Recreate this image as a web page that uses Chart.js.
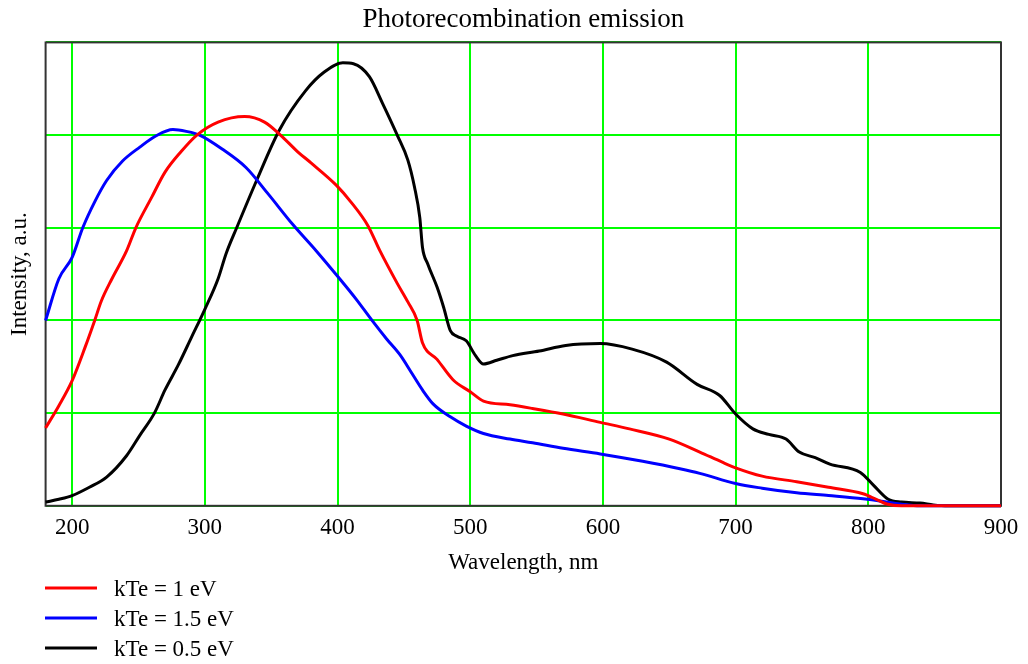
<!DOCTYPE html>
<html>
<head>
<meta charset="utf-8">
<title>Photorecombination emission</title>
<script src="https://cdn.jsdelivr.net/npm/chart.js@4.4.1/dist/chart.umd.min.js"></script>
<style>
  html, body { margin: 0; padding: 0; background: #fff; }
  #wrap { width: 1028px; height: 664px; }
</style>
</head>
<body>
<div id="wrap"><canvas id="emissionChart"></canvas></div>
<script>
// Espectros (comprimento de onda em nm, intensidade em u.a.)
const redX = [180, 190, 200, 210, 217, 222, 230, 241, 248, 260, 270, 282, 294, 310, 330, 345, 357, 370, 380, 399, 410, 423, 432, 445, 453, 460, 464, 475, 487, 500, 510, 530, 547, 570, 598, 620, 650, 673, 690, 700, 720, 746, 770, 796, 806, 814, 825, 900];
const redY = [0.84, 1.08, 1.35, 1.72, 2.0, 2.21, 2.45, 2.75, 3.0, 3.33, 3.6, 3.82, 4.0, 4.14, 4.2, 4.14, 4.0, 3.82, 3.7, 3.46, 3.28, 3.02, 2.75, 2.4, 2.2, 2.0, 1.76, 1.58, 1.36, 1.23, 1.13, 1.09, 1.05, 0.99, 0.9, 0.83, 0.72, 0.58, 0.47, 0.41, 0.32, 0.26, 0.2, 0.13, 0.07, 0.02, 0, 0];

const blueX = [180, 190, 200, 208, 217, 226, 238, 251, 263, 276, 286, 296, 313, 331, 348, 366, 384, 401, 414, 426, 437, 447, 456, 464, 472, 485, 497, 510, 530, 547, 570, 598, 630, 658, 673, 700, 720, 746, 770, 796, 810, 824, 839, 900];
const blueY = [2.0, 2.45, 2.68, 3.0, 3.28, 3.51, 3.72, 3.87, 3.99, 4.06, 4.04, 4.0, 3.85, 3.65, 3.36, 3.04, 2.75, 2.46, 2.23, 2.0, 1.8, 1.63, 1.43, 1.25, 1.1, 0.96, 0.86, 0.78, 0.72, 0.68, 0.62, 0.56, 0.48, 0.4, 0.35, 0.24, 0.19, 0.14, 0.11, 0.075, 0.05, 0.02, 0, 0];

const blackX = [180, 190, 200, 213, 226, 241, 251, 262, 270, 280, 290, 300, 310, 316, 324, 339, 356, 376, 390, 404, 412, 424, 434, 445, 453, 458, 462, 464, 468, 475, 480, 485, 490, 497, 504, 510, 520, 532, 552, 572, 598, 622, 648, 671, 688, 700, 713, 725, 738, 748, 760, 771, 794, 804, 815, 825, 839, 849, 860, 900];
const blackY = [0.04, 0.07, 0.11, 0.2, 0.31, 0.54, 0.76, 1.0, 1.25, 1.52, 1.82, 2.12, 2.45, 2.72, 3.0, 3.51, 4.05, 4.48, 4.68, 4.78, 4.77, 4.63, 4.34, 4.0, 3.73, 3.44, 3.11, 2.79, 2.61, 2.36, 2.14, 1.89, 1.83, 1.78, 1.62, 1.53, 1.57, 1.62, 1.67, 1.73, 1.75, 1.69, 1.55, 1.31, 1.19, 0.99, 0.83, 0.77, 0.72, 0.58, 0.52, 0.45, 0.36, 0.22, 0.07, 0.04, 0.03, 0.01, 0, 0];

const seriesLabels = ['kTe = 1 eV', 'kTe = 1.5 eV', 'kTe = 0.5 eV'];
const xTicks = [200, 300, 400, 500, 600, 700, 800, 900];

const serif = '"Liberation Serif", "Times New Roman", serif';

// Junta x e y em pontos para o Chart.js
const toPoints = (xs, ys) => xs.map((x, i) => ({ x: x, y: ys[i] }));

// Moldura em volta da área do gráfico
const framePlugin = {
    id: 'frame',
    beforeDatasetsDraw(chart) {
        const { ctx, chartArea } = chart;
        ctx.save();
        ctx.strokeStyle = '#333';
        ctx.lineWidth = 2;
        ctx.strokeRect(chartArea.left, chartArea.top, chartArea.right - chartArea.left, chartArea.bottom - chartArea.top);
        ctx.restore();
    }
};

// Legenda empilhada embaixo, à esquerda
const legendPlugin = {
    id: 'stackedLegend',
    afterDraw(chart) {
        const ctx = chart.ctx;
        ctx.save();
        chart.data.datasets.forEach((ds, i) => {
            const y = 588 + i * 30;
            ctx.strokeStyle = ds.borderColor;
            ctx.lineWidth = 3;
            ctx.beginPath();
            ctx.moveTo(45, y);
            ctx.lineTo(97, y);
            ctx.stroke();
            ctx.fillStyle = '#000';
            ctx.font = '23px ' + serif;
            ctx.textBaseline = 'middle';
            ctx.fillText(ds.label, 114, y + 2);
        });
        ctx.restore();
    }
};

const ctx = document.getElementById('emissionChart').getContext('2d');
const emissionChart = new Chart(ctx, {
    type: 'line',
    data: {
        datasets: [
            { label: seriesLabels[0], data: toPoints(redX, redY), borderColor: '#ff0000' },
            { label: seriesLabels[1], data: toPoints(blueX, blueY), borderColor: '#0000ff' },
            { label: seriesLabels[2], data: toPoints(blackX, blackY), borderColor: '#000000' }
        ]
    },
    options: {
        responsive: true,
        maintainAspectRatio: false,
        animation: false,
        layout: { padding: { left: 0, right: 27, top: 0, bottom: 81 } },
        elements: {
            point: { radius: 0 },
            line: { borderWidth: 3, cubicInterpolationMode: 'monotone', fill: false }
        },
        datasets: { line: { clip: false } },
        plugins: {
            legend: { display: false },
            tooltip: { enabled: false },
            title: {
                display: true,
                fullSize: false,
                text: 'Photorecombination emission',
                color: '#000',
                font: { family: serif, size: 27, weight: 'normal' },
                padding: { top: 4, bottom: 6 }
            }
        },
        scales: {
            x: {
                type: 'linear',
                min: 180,
                max: 900,
                afterBuildTicks: scale => { scale.ticks = xTicks.map(v => ({ value: v })); },
                grid: { color: '#00ff00', lineWidth: 2, drawTicks: false },
                border: { display: false },
                ticks: { color: '#000', font: { family: serif, size: 23 }, padding: 8, maxRotation: 0, autoSkip: false },
                title: {
                    display: true,
                    text: 'Wavelength, nm',
                    color: '#000',
                    font: { family: serif, size: 23 },
                    padding: { top: 0, bottom: 6 }
                }
            },
            y: {
                min: 0,
                max: 5,
                ticks: { display: false, stepSize: 1 },
                grid: { color: '#00ff00', lineWidth: 2, drawTicks: false },
                border: { display: false },
                title: {
                    display: true,
                    text: 'Intensity, a.u.',
                    color: '#000',
                    font: { family: serif, size: 23 },
                    padding: { top: 6, bottom: 12 }
                }
            }
        }
    },
    plugins: [framePlugin, legendPlugin]
});
</script>
</body>
</html>
